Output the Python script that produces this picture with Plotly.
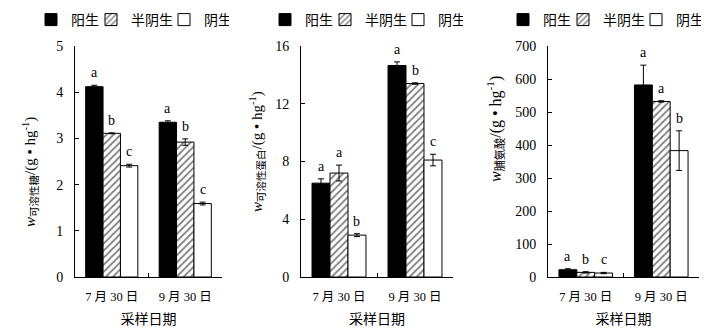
import plotly.graph_objects as go

dates = ["7 月 30 日", "9 月 30 日"]
series_names = ["阳生", "半阴生", "阴生"]

# panel 1: soluble sugar
sugar_vals = [[4.12, 3.35], [3.11, 2.92], [2.41, 1.59]]
sugar_err = [[0.03, 0.03], [0.01, 0.07], [0.03, 0.03]]
sugar_sig = [["a", "a"], ["b", "b"], ["c", "c"]]

# panel 2: soluble protein
prot_vals = [[6.5, 14.65], [7.2, 13.4], [2.9, 8.1]]
prot_err = [[0.3, 0.25], [0.55, 0.05], [0.1, 0.4]]
prot_sig = [["a", "a"], ["a", "b"], ["b", "c"]]

# panel 3: proline
pro_vals = [[22, 582], [14, 532], [12, 383]]
pro_err = [[3, 60], [2, 2], [2, 60]]
pro_sig = [["a", "a"], ["b", "a"], ["c", "b"]]

panels = [
    dict(vals=sugar_vals, err=sugar_err, sig=sugar_sig, rng=[0, 5], dtick=1,
         title="<i>w</i><sub>可溶性糖</sub>/(g • hg<sup>-1</sup>)"),
    dict(vals=prot_vals, err=prot_err, sig=prot_sig, rng=[0, 16], dtick=4,
         title="<i>w</i><sub>可溶性蛋白</sub>/(g • hg<sup>-1</sup>)"),
    dict(vals=pro_vals, err=pro_err, sig=pro_sig, rng=[0, 700], dtick=100,
         title="<i>w</i><sub>脯氨酸</sub>/(g • hg<sup>-1</sup>)"),
]

# the page body has an 8px margin, so the figure is 16px smaller than the window
W, H = 708, 320
xdomains = [[67 / W, 214 / W], [293 / W, 445 / W], [540 / W, 691 / W]]
ydomain = [1 - 269 / H, 1 - 38 / H]
legend_x = [23 / W, 257 / W, 495 / W]
legend_y = 1 - 12 / H
title_x = [22 / W, 249 / W, 487 / W]
title_y = [1 - 164 / H, 1 - 144 / H, 1 - 121 / H]
title_size = [15, 15, 16]
legend_widths = [15, 28, 20]

BARGAP = 0.29
serif = "Liberation Serif, Times New Roman, serif"
cjk = "Noto Sans CJK SC"

fills = [
    dict(color="black"),
    dict(color="white", pattern=dict(shape="/", fgcolor="black", bgcolor="white", size=5, solidity=0.35)),
    dict(color="white"),
]

fig = go.Figure()
annotations = []
for p, panel in enumerate(panels):
    ax = "" if p == 0 else str(p + 1)
    leg = "legend" if p == 0 else f"legend{p + 1}"
    for j in range(3):
        fig.add_trace(go.Bar(
            x=dates, y=panel["vals"][j], name=series_names[j],
            xaxis="x" + ax, yaxis="y" + ax, legend=leg, legendwidth=legend_widths[j],
            marker=dict(**fills[j], line=dict(color="black", width=1)),
            error_y=dict(type="data", array=panel["err"][j], color="black",
                         thickness=1, width=3),
        ))
        bw = (1 - BARGAP) / 3
        for i in range(2):
            annotations.append(dict(
                x=i + (j - 1) * bw, y=panel["vals"][j][i] + panel["err"][j][i],
                xref="x" + ax, yref="y" + ax, text=panel["sig"][j][i],
                showarrow=False, yanchor="bottom", yshift=3,
                font=dict(family=serif, size=14, color="black"),
            ))
    annotations.append(dict(
        x=title_x[p], y=title_y[p], xref="paper", yref="paper",
        xanchor="center", yanchor="middle",
        text=panel["title"], textangle=-90, showarrow=False,
        font=dict(family=serif + ", " + cjk, size=title_size[p], color="black"),
    ))
    xa = dict(domain=xdomains[p], anchor="y" + ax, type="category",
              showline=True, linecolor="black", linewidth=1,
              ticks="inside", ticklen=4, tickcolor="black", tickson="boundaries",
              ticklabelstandoff=8,
              tickfont=dict(family=serif + ", " + cjk, size=12.5, color="black"),
              title=dict(text="采样日期", font=dict(family=cjk, size=14, color="black"), standoff=13),
              showgrid=False, zeroline=False, fixedrange=True, automargin=False)
    ya = dict(domain=ydomain, anchor="x" + ax, range=panel["rng"], dtick=panel["dtick"],
              showline=True, linecolor="black", linewidth=1,
              ticks="inside", ticklen=4, tickcolor="black", ticklabelstandoff=8,
              tickfont=dict(family=serif, size=14, color="black"),
              showgrid=False, zeroline=False, fixedrange=True, automargin=False)
    fig.update_layout({f"xaxis{ax}": xa, f"yaxis{ax}": ya})
    fig.update_layout({leg: dict(orientation="h", x=legend_x[p], y=legend_y,
                                 xanchor="left", yanchor="middle",
                                 font=dict(family=cjk, size=14, color="black"),
                                 itemwidth=30, tracegroupgap=0, bgcolor="rgba(0,0,0,0)")})

fig.update_layout(
    width=W, height=H, barmode="group", bargap=BARGAP, bargroupgap=0,
    margin=dict(l=0, r=0, t=0, b=0, autoexpand=False),
    paper_bgcolor="white", plot_bgcolor="white",
    annotations=annotations, showlegend=True,
)
fig.write_html("out.html")
